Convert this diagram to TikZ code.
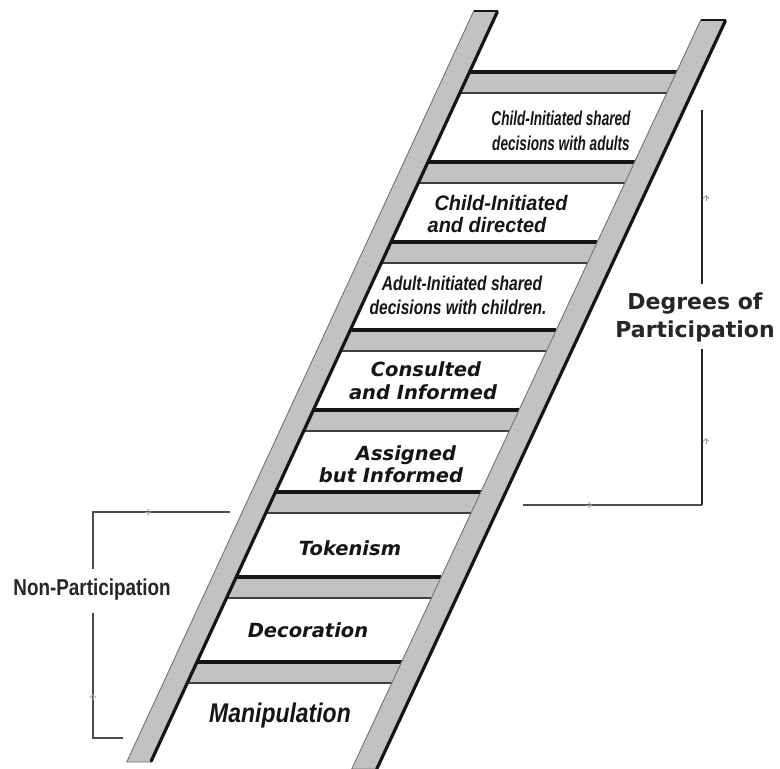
\documentclass[tikz,border=0pt]{standalone}
\usepackage{fontspec}
\setmainfont{DejaVu Sans}
\newfontfamily\fA[FakeStretch=0.68]{Liberation Sans}
\newfontfamily\fB[FakeStretch=0.95]{Liberation Sans}
\newfontfamily\fC[FakeStretch=0.78]{Liberation Sans}
\newfontfamily\fM[FakeStretch=0.85]{Liberation Sans}
\newfontfamily\fN[FakeStretch=0.82]{Liberation Sans}
\newfontfamily\fW{DejaVu Sans}
\usetikzlibrary{arrows.meta,calc}
\definecolor{railgray}{HTML}{C2C2C2}
\definecolor{ink}{HTML}{151515}
\tikzset{
  declare function={xLr(\y)=470-(\y-71)*0.462; xLl(\y)=446-(\y-71)*0.462;
                    xRl(\y)=677-(\y-71)*0.466; xRr(\y)=702-(\y-71)*0.466;},
  railfill/.style={fill=railgray},
  railedge/.style={draw=black!55, line width=0.9pt},
  railshadow/.style={draw=ink, line width=3.2pt, line cap=round},
  rungtop/.style={draw=ink, line width=3.6pt},
  rungbot/.style={draw=black!75, line width=1.4pt},
  steptext/.style={text=ink, align=center, inner sep=0pt},
  bracketline/.style={draw=black!85, line width=1.6pt},
  bracketthin/.style={draw=black!70, line width=1.1pt},
  tickmark/.style={draw=black!40, line width=0.8pt, -{Straight Barb[length=3pt,width=6pt]}},
  sidelabel/.style={text=black!85, align=center, inner sep=0pt},
}
\begin{document}
\begin{tikzpicture}[x=1pt,y=-1pt]
\useasboundingbox (0,0) rectangle (780,769);
\fill[white] (0,0) rectangle (780,769);

% rungs
\foreach \t in {72,162,242,330,410,492,577,662}{
  \pgfmathsetmacro\rb{\t+21}
  \fill[railfill] ({xLr(\t)-3},\t) -- ({xRl(\t)+3},\t) -- ({xRl(\rb)+3},\rb) -- ({xLr(\rb)-3},\rb) -- cycle;
  \draw[rungbot] ({xLr(\rb)},\rb) -- ({xRl(\rb)},\rb);
  \draw[rungtop] ({xLr(\t)},\t) -- ({xRl(\t)},\t);
}

% left rail
\filldraw[railfill, railedge] ({xLl(11)},11) -- ({xLr(11)},11) -- ({xLr(762)},762) -- ({xLl(762)},762) -- cycle;
\draw[railshadow] ({xLr(12)},12) -- ({xLr(761)},761);
\draw[draw=ink, line width=1.6pt] ({xLl(11)},11) -- ({xLr(11)},11);
% right rail
\filldraw[railfill, railedge] ({xRl(20)},20) -- ({xRr(20)},20) -- ({xRr(769)},769) -- ({xRl(769)},769) -- cycle;
\draw[railshadow] ({xRr(21)},21) -- ({xRr(769)},769);
\draw[draw=ink, line width=1.6pt] ({xRl(20)},20) -- ({xRr(20)},20);

% step texts
\node[steptext, font={\fA\bfseries\itshape\fontsize{20}{25}\selectfont}] (s1) at (561,131) {Child-Initiated shared\\decisions with adults};
\node[steptext, font={\fB\bfseries\itshape\fontsize{21}{22}\selectfont}] (s2) at (494,214) {\hspace*{14pt}Child-Initiated\\and directed\hspace*{14pt}};
\node[steptext, font={\fC\bfseries\itshape\fontsize{20}{24}\selectfont}] (s3) at (458,295) {\hspace*{8pt}Adult-Initiated shared\\decisions with children.};
\node[steptext, font={\fW\bfseries\itshape\fontsize{19.5}{23}\selectfont}] (s4) at (423,381) {\hspace*{6pt}Consulted\\and Informed};
\node[steptext, font={\fW\bfseries\itshape\fontsize{19.5}{22}\selectfont}] (s5) at (398,464) {\hspace*{16pt}Assigned\\but Informed\hspace*{14pt}};
\node[steptext, font={\fW\bfseries\itshape\fontsize{19.5}{22}\selectfont}] (s6) at (350,548) {Tokenism};
\node[steptext, font={\fW\bfseries\itshape\fontsize{19.5}{22}\selectfont}] (s7) at (308,630) {Decoration};
\node[steptext, font={\fM\bfseries\itshape\fontsize{27}{30}\selectfont}] (s8) at (280,716) {Manipulation};

% Degrees of participation bracket
\node[sidelabel, font={\fW\bfseries\fontsize{22}{28}\selectfont}] (deg) at (695,317) {Degrees of\\Participation};
\coordinate (dtop) at (702,110);
\coordinate (dcorner) at (702,505);
\coordinate (dend) at (523,505);
\draw[bracketline] (dtop) -- ($(dtop |- deg.north)+(0,-8)$);
\draw[bracketline] ($(dtop |- deg.south)+(0,7)$) -- (dcorner);
\draw[bracketthin] (dcorner) -- (dend);
\draw[tickmark] (706,201) -- (706,195);
\draw[tickmark] (706,444) -- (706,438);
\draw[tickmark] (586,505) -- (592,505);

% Non-participation bracket
\node[sidelabel, font={\fN\bfseries\fontsize{23}{26}\selectfont}] (non) at (92,590) {Non-Participation};
\coordinate (ntop) at (230,512);
\coordinate (ncorner) at (93,512);
\coordinate (nbot) at (93,738);
\coordinate (nend) at (123,738);
\draw[bracketthin] (ntop) -- (ncorner) -- ($(ncorner |- non.north)+(0,-10)$);
\draw[bracketthin] ($(nbot |- non.south)+(0,12)$) -- (nbot) -- (nend);
\draw[tickmark] (145,512) -- (151,512);
\draw[tickmark] (93,700) -- (93,694);
\end{tikzpicture}
\end{document}
